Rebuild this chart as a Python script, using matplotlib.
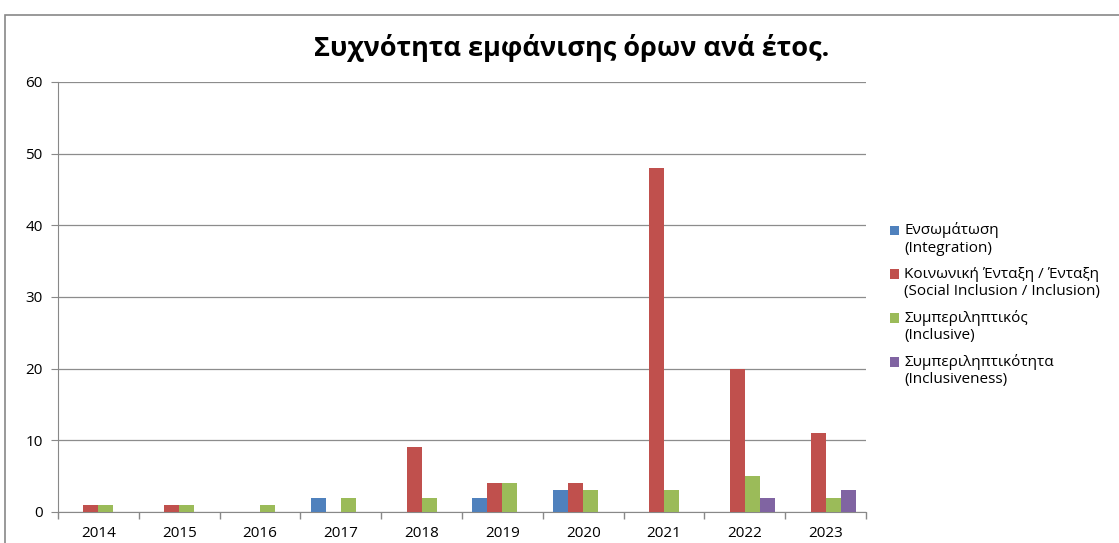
import numpy as np
import matplotlib.pyplot as plt
from matplotlib.patches import Rectangle
from matplotlib.container import BarContainer
from matplotlib.legend_handler import HandlerPatch

plt.rcParams['font.family'] = ['Open Sans', 'DejaVu Sans']

years = ["2014", "2015", "2016", "2017", "2018", "2019", "2020", "2021", "2022", "2023"]
integration = [0, 0, 0, 2, 0, 2, 3, 0, 0, 0]
social_inclusion = [1, 1, 0, 0, 9, 4, 4, 48, 20, 11]
inclusive = [1, 1, 1, 2, 2, 4, 3, 3, 5, 2]
inclusiveness = [0, 0, 0, 0, 0, 0, 0, 0, 2, 3]

labels = ["Ενσωμάτωση\n(Integration)",
          "Κοινωνική Ένταξη / Ένταξη\n(Social Inclusion / Inclusion)",
          "Συμπεριληπτικός\n(Inclusive)",
          "Συμπεριληπτικότητα\n(Inclusiveness)"]
colors = ["#4F81BD", "#C0504D", "#9BBB59", "#8064A2"]
series = [integration, social_inclusion, inclusive, inclusiveness]


# legend square next to the first line of a two-line label
def top_square(legend, orig_handle, xdescent, ydescent, width, height, fontsize):
    return Rectangle((-xdescent, -ydescent + 0.55 * fontsize), width, height)


def first_bar_style(legend_handle, orig_handle):
    legend_handle.update_from(orig_handle.patches[0])


fig = plt.figure(figsize=(11.19, 5.43), dpi=100)
ax = fig.add_axes([0.0518, 0.0571, 0.7222, 0.7920])

x = np.arange(len(years))
w = 0.186
for i, (vals, lab, col) in enumerate(zip(series, labels, colors)):
    ax.bar(x + (i - 1.5) * w, vals, width=w, color=col, label=lab, zorder=3)

ax.set_xlim(-0.5, len(years) - 0.5)
ax.set_ylim(0, 60)
ax.set_yticks(range(0, 61, 10))
ax.set_xticks(x)
ax.set_xticklabels(years, fontsize=11)
ax.set_xticks(np.arange(-0.5, len(years), 1), minor=True)
ax.tick_params(axis='x', which='major', length=0, pad=10)
ax.tick_params(axis='x', which='minor', length=5, color='#888888', width=1)
ax.tick_params(axis='y', length=5, color='#888888', labelsize=11, pad=6)
ax.yaxis.grid(True, color='#8c8c8c', linewidth=0.9, zorder=0)
for s in ['top', 'right']:
    ax.spines[s].set_visible(False)
for s in ['left', 'bottom']:
    ax.spines[s].set_color('#888888')

fig.text(0.511, 0.911, "Συχνότητα εμφάνισης όρων ανά έτος.", ha='center', va='center',
         fontsize=19.5, fontweight='bold')

ax.legend(loc='center left', bbox_to_anchor=(1.012, 0.482), frameon=False, fontsize=11,
          handlelength=0.6, handleheight=0.6, handletextpad=0.35, labelspacing=0.72,
          handler_map={BarContainer: HandlerPatch(patch_func=top_square,
                                                  update_func=first_bar_style)})

fig.patches.append(Rectangle((5 / 1119, -0.1), 1.2, 1 - 15 / 543 + 0.1, transform=fig.transFigure,
                             fill=False, edgecolor='#888888', linewidth=1.2))

fig.savefig("out.png", dpi=100)
